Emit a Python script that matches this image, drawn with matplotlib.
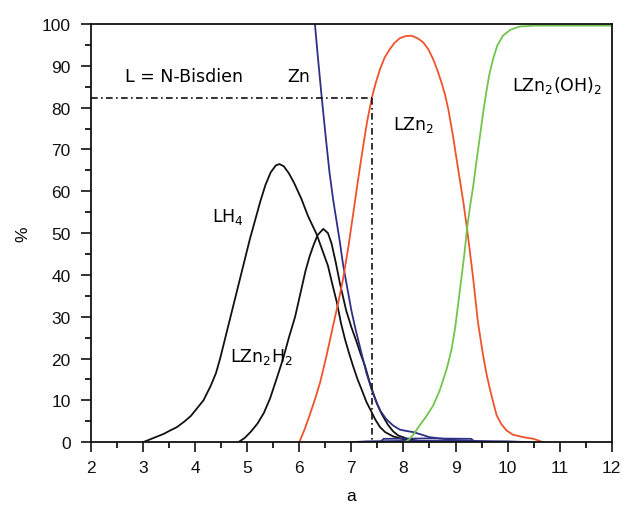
import matplotlib
matplotlib.use("Agg")
import matplotlib.pyplot as plt

plt.rcParams['font.family'] = ['Liberation Sans', 'DejaVu Sans']
plt.rcParams['mathtext.default'] = 'regular'

# ---- data ----
lh4_x = [3.0, 3.2, 3.4, 3.52, 3.65, 3.8, 3.92, 4.03, 4.16, 4.3, 4.4, 4.48, 4.57, 4.67,
         4.76, 4.85, 4.95, 5.05, 5.15, 5.25, 5.35, 5.45, 5.55, 5.62, 5.7, 5.8, 5.9,
         6.04, 6.17, 6.33, 6.44, 6.55, 6.64, 6.72, 6.8, 6.88, 6.95, 7.03, 7.12, 7.2,
         7.29, 7.38, 7.46, 7.55, 7.65, 7.8, 8.0, 8.2, 8.4]
lh4_y = [0, 1, 2, 2.8, 3.6, 5, 6.3, 8, 10, 13.5, 16.5, 20, 24.5, 29.5,
         34, 38.5, 43.5, 48.5, 53, 57.5, 61.5, 64.5, 66.2, 66.5, 66, 64.3, 62,
         58.2, 54, 49.8, 46, 42.2, 37.5, 33.5, 28.5, 24.5, 21.5, 18.3, 15, 12.5,
         9.6, 7.4, 5.4, 3.6, 2.4, 1.4, 0.7, 0.3, 0.1]

lzn2h2_x = [4.83, 4.95, 5.07, 5.2, 5.32, 5.44, 5.56, 5.69, 5.8, 5.92, 6.02, 6.12, 6.2,
            6.27, 6.35, 6.46, 6.55, 6.62, 6.7, 6.78, 6.9, 7.0, 7.1, 7.18, 7.26, 7.37,
            7.48, 7.58, 7.7, 7.8, 7.9, 8.1, 8.3, 8.5]
lzn2h2_y = [0, 1, 2.5, 4.5, 7, 10.5, 15, 20, 25, 30, 35.5, 41, 44.5,
            47, 49.5, 51, 50, 47.5, 43, 38, 31.5, 27.5, 24, 21, 18.3, 13.5,
            9.6, 6.8, 4.2, 2.6, 1.6, 0.7, 0.3, 0.1]

zn_x = [6.30, 6.35, 6.43, 6.52, 6.58, 6.65, 6.72, 6.78, 6.84, 6.92, 7.0, 7.08, 7.15,
        7.22, 7.29, 7.36, 7.42, 7.5, 7.55, 7.67, 7.8, 7.93, 8.05, 8.19, 8.35, 8.5,
        8.76, 9.0, 9.3, 9.6, 10.0]
zn_y = [100, 93, 82.5, 71.5, 64.5, 58, 52.5, 47.8, 42.5, 37, 31.5, 27, 23.5,
        20, 16.5, 13.8, 11.5, 9, 7.6, 5.5, 4, 3, 2.7, 2.4, 1.8, 1.2,
        0.8, 0.5, 0.3, 0.1, 0]

lzn2_x = [6.0, 6.1, 6.2, 6.3, 6.4, 6.52, 6.65, 6.75, 6.84, 6.94, 7.03, 7.12, 7.21,
          7.3, 7.39, 7.47, 7.55, 7.64, 7.74, 7.83, 7.93, 8.04, 8.155, 8.27, 8.38,
          8.48, 8.57, 8.65, 8.73, 8.8, 8.86, 8.95, 9.05, 9.15, 9.23, 9.34, 9.43,
          9.53, 9.6, 9.66, 9.73, 9.79, 9.88, 9.98, 10.1, 10.3, 10.5, 10.68]
lzn2_y = [0, 3, 6.5, 10.2, 14.3, 20.5, 27.9, 33.5, 39, 46.5, 54.2, 62, 69.5,
          76.5, 82.2, 86, 89.2, 92, 94, 95.5, 96.6, 97.1, 97.2, 96.6, 95.6,
          93.9, 91.6, 89, 86, 83, 79.7, 73.3, 65.3, 57.4, 50.2, 39, 28.7,
          20.7, 16, 12.7, 9.2, 6.4, 4.3, 2.8, 1.8, 1.2, 0.8, 0]

lzn2oh2_x = [8.03, 8.12, 8.2, 8.31, 8.44, 8.57, 8.7, 8.83, 8.92, 8.99, 9.05, 9.11,
             9.17, 9.22, 9.28, 9.34, 9.4, 9.47, 9.53, 9.59, 9.65, 9.72, 9.8, 9.91,
             10.05, 10.23, 10.5, 12.0]
lzn2oh2_y = [0, 0.8, 2, 4, 6.2, 8.75, 12.5, 17.5, 22, 27.1, 33, 39,
             45, 51, 56.5, 61.3, 67, 73.3, 78.8, 83.7, 88, 91.6, 94.8, 97.2,
             98.6, 99.4, 99.6, 99.6]

minor_a_x = [7.0, 7.3, 8.0, 9.0, 10.0, 10.43]
minor_a_y = [0, 0.2, 0.3, 0.3, 0.2, 0]
minor_b_x = [7.55, 7.62, 8.5, 9.3, 9.38]
minor_b_y = [0, 0.8, 0.9, 0.8, 0]

guide_x = 7.4
guide_y = 82.2

x_ticks = [2, 3, 4, 5, 6, 7, 8, 9, 10, 11, 12]
y_ticks = [0, 10, 20, 30, 40, 50, 60, 70, 80, 90, 100]

# ---- figure ----
fig = plt.figure(figsize=(6.23, 5.10), dpi=100)
ax = fig.add_axes([0.146, 0.131, 0.836, 0.820])

black = '#111111'
blue = '#2e2f85'
orange = '#f0532b'
green = '#72c44e'
lw = 1.3

ax.plot(lh4_x, lh4_y, color=black, lw=lw)
ax.plot(lzn2h2_x, lzn2h2_y, color=black, lw=lw)
ax.plot(zn_x, zn_y, color=blue, lw=lw)
ax.plot(minor_a_x, minor_a_y, color=blue, lw=lw)
ax.plot(minor_b_x, minor_b_y, color=blue, lw=lw)
ax.plot(lzn2_x, lzn2_y, color=orange, lw=lw)
ax.plot(lzn2oh2_x, lzn2oh2_y, color=green, lw=lw)

# guide lines
ax.plot([2, guide_x], [guide_y, guide_y], color=black, lw=1.2, ls=(0, (4, 2, 1, 2)))
ax.plot([guide_x, guide_x], [guide_y, 0], color=black, lw=1.2, ls=(0, (4, 2, 1, 2)))

ax.set_xlim(2, 12)
ax.set_ylim(0, 100)
ax.set_xticks(x_ticks)
ax.set_yticks(y_ticks)
ax.set_xticks([v + 0.5 for v in x_ticks[:-1]], minor=True)
ax.set_yticks([v + 5 for v in y_ticks[:-1]], minor=True)
ax.tick_params(axis='both', which='major', direction='out', length=7, width=1.2,
               labelsize=12.5, colors='#111111')
ax.tick_params(axis='both', which='minor', direction='out', length=4, width=1.2)
ax.tick_params(axis='x', which='major', pad=6)
ax.tick_params(axis='y', which='major', pad=7.5)
for s in ax.spines.values():
    s.set_linewidth(1.3)
    s.set_color('#111111')

ax.set_xlabel('a', fontsize=12.5, labelpad=9)
ax.set_ylabel('%', fontsize=12.5, labelpad=8.5)

ann = dict(fontsize=12.5, family='DejaVu Sans', ha='left', va='baseline')
ax.text(2.65, 86.4, 'L = N-Bisdien', **ann)
ax.text(5.76, 86.4, 'Zn', **ann)
ax.text(7.80, 74.9, 'LZn$_2$', **ann)
ax.text(10.09, 84.3, 'LZn$_2$(OH)$_2$', **ann)
ax.text(4.32, 53.0, 'LH$_4$', **ann)
ax.text(4.67, 19.5, 'LZn$_2$H$_2$', **ann)

fig.savefig('out.png', dpi=100)
